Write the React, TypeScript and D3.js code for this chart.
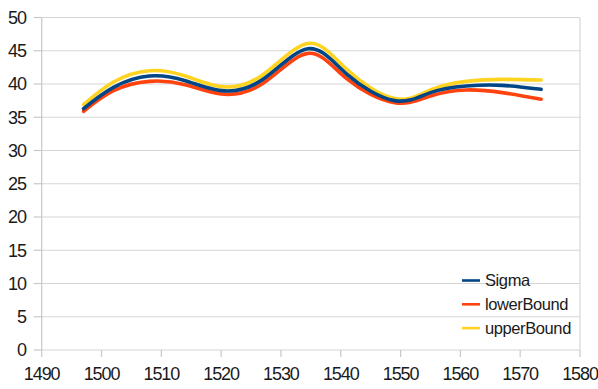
import React from "react";
import * as d3 from "d3";

// Wavelength samples (nm)
const wavelengths = [1497, 1502, 1508, 1514, 1520, 1527, 1534.5, 1541, 1549, 1555, 1561, 1567, 1573.5];
const sigma = [36.3, 39.5, 41.2, 40.5, 39.0, 40.7, 45.3, 41.5, 37.5, 38.7, 39.7, 39.8, 39.2];
const lowerBound = [35.9, 39.0, 40.4, 39.9, 38.5, 40.1, 44.6, 40.8, 37.2, 38.2, 39.1, 38.7, 37.7];
const upperBound = [36.9, 40.3, 42.0, 41.2, 39.6, 41.4, 46.1, 42.2, 37.8, 39.1, 40.4, 40.7, 40.6];

const xTicks = [1490, 1500, 1510, 1520, 1530, 1540, 1550, 1560, 1570, 1580];
const yTicks = [0, 5, 10, 15, 20, 25, 30, 35, 40, 45, 50];

const seriesNames = ["Sigma", "lowerBound", "upperBound"];
const seriesColors = ["#004586", "#ff420e", "#ffd320"];

const W = 598;
const H = 389;
const left = 41.7;
const right = 580;
const top = 17.5;
const bottom = 350;

export default function App() {
  const x = d3.scaleLinear().domain([1490, 1580]).range([left, right]);
  const y = d3.scaleLinear().domain([0, 50]).range([bottom, top]);

  const line = d3
    .line<[number, number]>()
    .x((d) => x(d[0]))
    .y((d) => y(d[1]))
    .curve(d3.curveNatural);

  const series = [sigma, lowerBound, upperBound];
  const drawOrder = [2, 1, 0];
  const font = "'Liberation Sans', Arial, sans-serif";

  return (
    <svg
      width={W}
      height={H}
      style={{ position: "absolute", left: 0, top: 0, background: "#fff" }}
      fontFamily={font}
    >
      {/* horizontal gridlines */}
      {yTicks.map((t) => (
        <line key={"g" + t} x1={left} x2={right} y1={y(t)} y2={y(t)} stroke="#d6d6d6" strokeWidth={1.2} />
      ))}
      {/* axes and frame */}
      <line x1={left} x2={left} y1={top} y2={bottom} stroke="#c8c8c8" strokeWidth={1.2} />
      <line x1={right} x2={right} y1={top} y2={bottom} stroke="#d6d6d6" strokeWidth={1.2} />
      {yTicks.map((t) => (
        <line key={"yt" + t} x1={left - 8} x2={left} y1={y(t)} y2={y(t)} stroke="#c8c8c8" strokeWidth={1.2} />
      ))}
      {xTicks.map((t) => (
        <line key={"xt" + t} x1={x(t)} x2={x(t)} y1={bottom} y2={bottom + 7} stroke="#c8c8c8" strokeWidth={1.2} />
      ))}
      {/* tick labels */}
      {yTicks.map((t) => (
        <text
          key={"yl" + t}
          x={26}
          y={y(t)}
          dy="0.36em"
          textAnchor="end"
          fontSize={18}
          letterSpacing={-1}
          fill="#1a1a1a"
        >
          {t}
        </text>
      ))}
      {xTicks.map((t) => (
        <text
          key={"xl" + t}
          x={x(t)}
          y={380}
          textAnchor="middle"
          fontSize={18}
          letterSpacing={-1.1}
          fill="#1a1a1a"
        >
          {t}
        </text>
      ))}
      {/* series lines */}
      {drawOrder.map((i) => (
        <path
          key={"s" + i}
          d={line(wavelengths.map((w, k) => [w, series[i][k]] as [number, number])) || ""}
          fill="none"
          stroke={seriesColors[i]}
          strokeWidth={3.6}
          strokeLinecap="round"
          strokeLinejoin="round"
        />
      ))}
      {/* legend */}
      {seriesNames.map((name, i) => {
        const ly = 280.5 + i * 23.8;
        return (
          <g key={"lg" + i}>
            <line x1={462} x2={480} y1={ly} y2={ly} stroke={seriesColors[i]} strokeWidth={2.6} />
            <text x={485} y={ly} dy="0.36em" fontSize={16.5} letterSpacing={-0.4} fill="#1a1a1a">
              {name}
            </text>
          </g>
        );
      })}
    </svg>
  );
}
